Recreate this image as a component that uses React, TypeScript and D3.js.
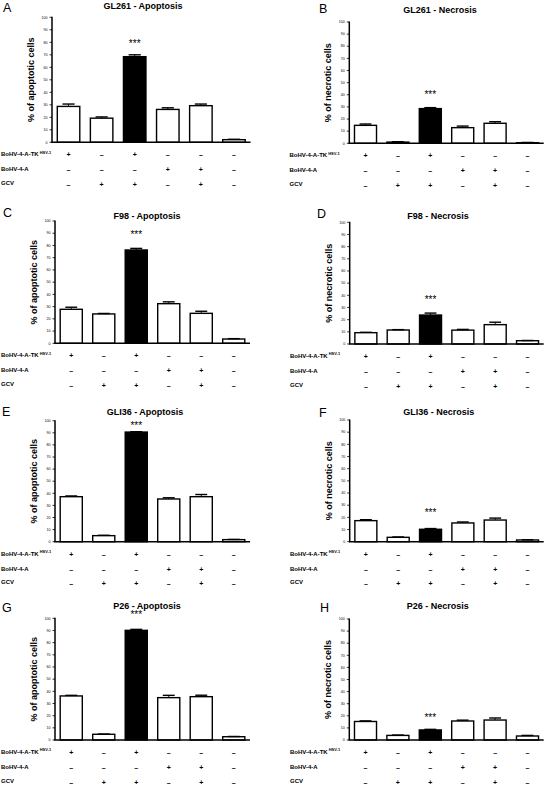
import React from "react";
import * as d3 from "d3";

// ---- data ----
const conditions = ["c1", "c2", "c3", "c4", "c5", "c6"];
const rowLabels = ["BoHV-4-A-TK", "BoHV-4-A", "GCV"];
const tkRow = ["+", "–", "+", "–", "–", "–"];
const aRow = ["–", "–", "–", "+", "+", "–"];
const gcvRow = ["–", "+", "+", "–", "+", "–"];
const yTicks = [0, 10, 20, 30, 40, 50, 60, 70, 80, 90, 100];

const gl261Apo = [28.7, 19.3, 68.5, 26.3, 29.3, 2.1];
const gl261ApoErr = [1.9, 1.0, 1.5, 1.3, 1.3, 0.3];
const gl261Nec = [14.8, 1.0, 28.6, 12.9, 16.5, 0.5];
const gl261NecErr = [1.1, 0.3, 0.8, 1.3, 1.3, 0.2];
const f98Apo = [27.8, 24.0, 76.3, 32.4, 24.5, 3.5];
const f98ApoErr = [1.7, 0.4, 1.3, 1.5, 1.7, 0.3];
const f98Nec = [9.3, 11.5, 23.8, 11.4, 15.9, 2.7];
const f98NecErr = [0.3, 0.3, 1.6, 0.6, 2.0, 0.2];
const gli36Apo = [37.2, 5.0, 90.6, 35.3, 37.2, 1.7];
const gli36ApoErr = [0.6, 0.3, 0.3, 1.0, 1.8, 0.2];
const gli36Nec = [17.3, 3.6, 10.2, 15.4, 17.8, 1.4];
const gli36NecErr = [0.8, 0.3, 0.6, 0.8, 1.6, 0.2];
const p26Apo = [36.2, 4.7, 90.1, 34.8, 35.6, 2.7];
const p26ApoErr = [0.5, 0.2, 0.8, 1.9, 1.2, 0.2];
const p26Nec = [15.3, 3.8, 8.3, 15.7, 16.5, 3.3];
const p26NecErr = [0.5, 0.3, 0.5, 0.7, 1.7, 0.5];

const starLevels = [80.6, 41.7, 91, 38.4, 98, 25.5, 104.6, 20.7];

const panels = [
  { letter: "A", title: "GL261 - Apoptosis", ylab: "% of apoptotic cells", values: gl261Apo, errs: gl261ApoErr,
    ax: 52, ex: 250.5, top: 17.3, zero: 142.3, tx: 143, ty: 8.5, lx: 3, ly: 12, rx: 1 },
  { letter: "B", title: "GL261 - Necrosis", ylab: "% of necrotic cells", values: gl261Nec, errs: gl261NecErr,
    ax: 349.3, ex: 543.7, top: 22, zero: 143.3, tx: 440, ty: 12.7, lx: 319, ly: 13.3, rx: 289.5 },
  { letter: "C", title: "F98 - Apoptosis", ylab: "% of apoptotic cells", values: f98Apo, errs: f98ApoErr,
    ax: 55, ex: 250, top: 221, zero: 343.3, tx: 147, ty: 219, lx: 3, ly: 216.7, rx: 1 },
  { letter: "D", title: "F98 - Necrosis", ylab: "% of necrotic cells", values: f98Nec, errs: f98NecErr,
    ax: 349.7, ex: 543.7, top: 222.3, zero: 344, tx: 438, ty: 219, lx: 317, ly: 218.3, rx: 290 },
  { letter: "E", title: "GLI36 - Apoptosis", ylab: "% of apoptotic cells", values: gli36Apo, errs: gli36ApoErr,
    ax: 55, ex: 250, top: 420.7, zero: 541.7, tx: 145, ty: 415, lx: 2, ly: 415.7, rx: 1 },
  { letter: "F", title: "GLI36 - Necrosis", ylab: "% of necrotic cells", values: gli36Nec, errs: gli36NecErr,
    ax: 349.7, ex: 543.7, top: 420, zero: 541.7, tx: 438.7, ty: 415, lx: 319, ly: 416.7, rx: 290 },
  { letter: "G", title: "P26 - Apoptosis", ylab: "% of apoptotic cells", values: p26Apo, errs: p26ApoErr,
    ax: 55, ex: 250, top: 618.3, zero: 740, tx: 147, ty: 608.5, lx: 2, ly: 611.7, rx: 1 },
  { letter: "H", title: "P26 - Necrosis", ylab: "% of necrotic cells", values: p26Nec, errs: p26NecErr,
    ax: 349.3, ex: 543.7, top: 619, zero: 740, tx: 437.7, ty: 609, lx: 320, ly: 611.7, rx: 290 },
];

const FONT = "'Liberation Sans', Arial, Helvetica, sans-serif";

function Panel({ p, star }: { p: any; star: number }) {
  const x = d3.scaleBand<string>().domain(conditions).range([p.ax, p.ex]).paddingInner(0.32).paddingOuter(0.16);
  const y = d3.scaleLinear().domain([0, 100]).range([p.zero, p.top]);
  const bw = x.bandwidth();
  const rows = [tkRow, aRow, gcvRow];
  const rowBase = [14.8, 30, 44.5];
  const labelBase = [14, 29, 42.7];
  return (
    <g fontFamily={FONT}>
      <text x={p.lx} y={p.ly} fontSize={12.5} fill="#000">{p.letter}</text>
      <text x={p.tx} y={p.ty} fontSize={9} fontWeight="bold" textAnchor="middle">{p.title}</text>
      <text transform={`translate(${p.ax - 18},${(p.top + p.zero) / 2}) rotate(-90)`} fontSize={9}
        fontWeight="bold" textAnchor="middle">{p.ylab}</text>
      {yTicks.map((t) => (
        <g key={t}>
          <line x1={p.ax - 2.5} x2={p.ax} y1={y(t)} y2={y(t)} stroke="#000" strokeWidth={0.8} />
          <text x={p.ax - 4.5} y={y(t) + 1.2} fontSize={3.6} textAnchor="end">{t}</text>
        </g>
      ))}
      {conditions.map((c, i) => {
        const v = p.values[i];
        const e = p.errs[i];
        const cx = (x(c) as number) + bw / 2;
        return (
          <g key={c}>
            <rect x={x(c)} y={y(v)} width={bw} height={p.zero - y(v)} fill={i === 2 ? "#000" : "#fff"}
              stroke="#000" strokeWidth={1.4} />
            <line x1={cx} x2={cx} y1={y(v)} y2={y(v + e)} stroke="#000" strokeWidth={0.9} />
            <line x1={cx - bw * 0.27} x2={cx + bw * 0.27} y1={y(v + e)} y2={y(v + e)} stroke="#000" strokeWidth={1.4} />
          </g>
        );
      })}
      <line x1={p.ax} x2={p.ax} y1={p.top - 0.5} y2={p.zero} stroke="#000" strokeWidth={1.5} />
      <line x1={p.ax - 0.75} x2={p.ex} y1={p.zero} y2={p.zero} stroke="#000" strokeWidth={1.5} />
      <text x={(x(conditions[2]) as number) + bw / 2} y={y(star) + 5.7} fontSize={10} textAnchor="middle">***</text>
      {rowLabels.map((lab, r) => (
        <text key={lab} x={p.rx} y={p.zero + labelBase[r]} fontSize={6} fontWeight="bold">
          {lab}
          {r === 0 ? <tspan dx={1} dy={-2.6} fontSize={4}>HSV-1</tspan> : null}
        </text>
      ))}
      {rows.map((row, r) =>
        row.map((s, i) => (
          <text key={`${r}-${i}`} x={(x(conditions[i]) as number) + bw / 2} y={p.zero + rowBase[r]}
            fontSize={7} fontWeight="bold" textAnchor="middle">{s}</text>
        ))
      )}
    </g>
  );
}

export default function App() {
  return (
    <svg width={545} height={786} style={{ position: "absolute", left: 0, top: 0, background: "#fff" }}>
      <rect width={545} height={786} fill="#fff" />
      {panels.map((p, i) => (
        <Panel key={p.letter} p={p} star={starLevels[i]} />
      ))}
    </svg>
  );
}
